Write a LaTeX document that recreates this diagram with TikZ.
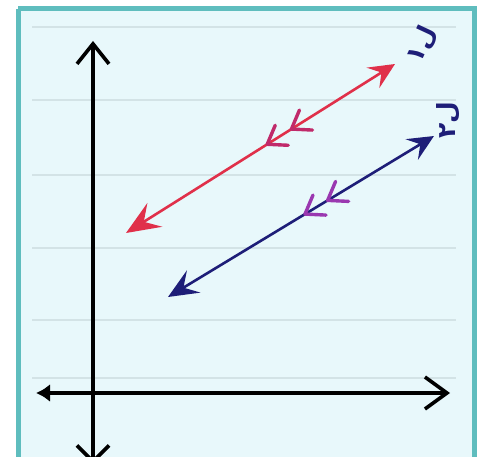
\documentclass[tikz,border=0pt]{standalone}
\usepackage{fontspec}
\newfontfamily\arabicfont[Script=Arabic]{DejaVu Sans}
\TeXXeTstate=1
\usetikzlibrary{arrows.meta,calc}
\definecolor{bgc}{HTML}{E8F8FB}
\definecolor{framec}{HTML}{5FBDBE}
\definecolor{rulec}{HTML}{D3E3E6}
\definecolor{redl}{HTML}{E0304A}
\definecolor{navyl}{HTML}{1E1E78}
\definecolor{markr}{HTML}{C02A6A}
\definecolor{markb}{HTML}{9A38B0}
\tikzset{
  axis/.style={line width=3.6pt, black, line cap=round},
  ruleline/.style={rulec, line width=1.6pt},
  bighead/.style={Stealth[length=32pt,width=26pt,inset=12pt]},
  smallhead/.style={Stealth[length=26pt,width=24pt,inset=10pt]},
  parmark/.style={line width=3.4pt, line cap=round, line join=round},
  lbl/.style={navyl, font=\arabicfont\bfseries\fontsize{25}{25}\selectfont, inner sep=0pt}
}
\begin{document}
\begin{tikzpicture}[x=1pt,y=-1pt]
\useasboundingbox (0,0) rectangle (482,457);
\clip (0,0) rectangle (482,457);
\fill[white] (0,0) rectangle (482,457);
\fill[bgc] (18,9) rectangle (474,470);
\draw[framec, line width=5pt] (18,9) -- (474,9) -- (474,470) (18,9) -- (18,470);
% ruled lines
\foreach \yy in {27,100,175,248,320,378}
  \draw[ruleline] (32,\yy) -- (456,\yy);
% axes
\coordinate (yb) at (93,464);
\coordinate (yt) at (93,41);
\coordinate (xl) at (36,393);
\coordinate (xr) at (450,393);
\draw[axis, {Straight Barb[length=16pt,width=32pt,line width=3.6pt]}-{Straight Barb[length=20pt,width=32pt,line width=3.6pt]}] (yb) -- (yt);
\draw[axis, {Latex[length=14pt,width=18pt]}-{Straight Barb[length=22pt,width=32pt,line width=3.6pt]}] (xl) -- (xr);
% red line
\coordinate (r1) at (126,233);
\coordinate (r2) at (395,64);
\draw[line width=2.6pt, redl, {Stealth[length=34pt,width=28pt,inset=13pt]}-{Stealth[length=26pt,width=24pt,inset=10pt]}] (r1) -- (r2);
% blue line
\coordinate (b1) at (168,297);
\coordinate (b2) at (434,136);
\draw[line width=2.6pt, navyl, {Stealth[length=30pt,width=26pt,inset=12pt]}-{Stealth[length=26pt,width=24pt,inset=10pt]}] (b1) -- (b2);
% parallel marks
\begin{scope}[markr, parmark]
  \coordinate (rm1) at ($(r1)!0.525!(r2)$);
  \coordinate (rm2) at ($(r1)!0.615!(r2)$);
  \draw (rm1) ++(8,-19) -- (rm1) -- ++(21,1);
  \draw (rm2) ++(8,-19) -- (rm2) -- ++(21,1);
\end{scope}
\begin{scope}[markb, parmark]
  \coordinate (bm1) at ($(b1)!0.515!(b2)$);
  \coordinate (bm2) at ($(b1)!0.60!(b2)$);
  \draw (bm1) ++(8,-19) -- (bm1) -- ++(21,1);
  \draw (bm2) ++(8,-19) -- (bm2) -- ++(21,1);
\end{scope}
% labels
\node[lbl, rotate=65] (l1) at (422,45) {\beginR ل١\endR};
\node[lbl, rotate=90] (l2) at (448,120) {\beginR ل٢\endR};
\end{tikzpicture}
\end{document}
